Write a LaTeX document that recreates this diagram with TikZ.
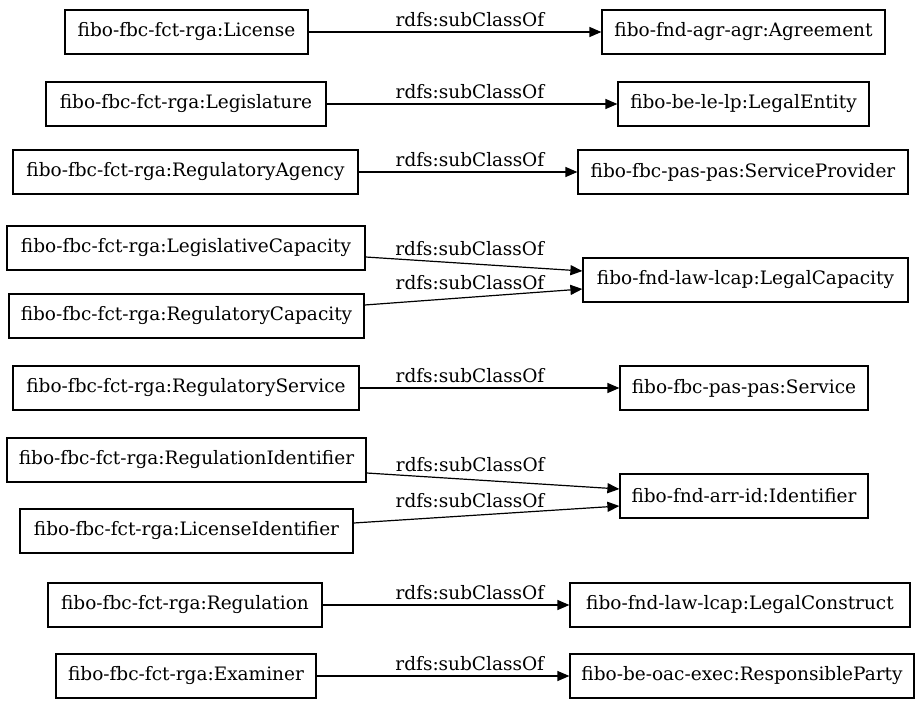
\documentclass[tikz,border=0pt]{standalone}
\usepackage{fontspec}
\setmainfont{DejaVu Serif}
\usetikzlibrary{arrows.meta}
\begin{document}
\begin{tikzpicture}[x=1pt,y=-1pt,
  cls/.style={draw,line width=1.2pt,minimum height=44pt,inner sep=0pt,font=\fontsize{18.5}{22}\selectfont},
  sub/.style={line width=1.2pt,-{Triangle[length=12pt,width=10pt]}},
  lab/.style={font=\fontsize{18.5}{22}\selectfont,inner sep=0pt,anchor=base,yshift=6pt}]
\useasboundingbox (0,0) rectangle (923,707);
% left nodes
\node[cls,minimum width=243pt] (l1) at (186.5,32) {fibo-fbc-fct-rga:License};
\node[cls,minimum width=280pt] (l2) at (186,104) {fibo-fbc-fct-rga:Legislature};
\node[cls,minimum width=345pt] (l3) at (185.5,172) {fibo-fbc-fct-rga:RegulatoryAgency};
\node[cls,minimum width=358pt] (l4) at (186,248) {fibo-fbc-fct-rga:LegislativeCapacity};
\node[cls,minimum width=355pt] (l5) at (186.5,316) {fibo-fbc-fct-rga:RegulatoryCapacity};
\node[cls,minimum width=346pt] (l6) at (186,388) {fibo-fbc-fct-rga:RegulatoryService};
\node[cls,minimum width=359pt] (l7) at (186.5,460) {fibo-fbc-fct-rga:RegulationIdentifier};
\node[cls,minimum width=333pt] (l8) at (186.5,531) {fibo-fbc-fct-rga:LicenseIdentifier};
\node[cls,minimum width=274pt] (l9) at (185,605) {fibo-fbc-fct-rga:Regulation};
\node[cls,minimum width=260pt] (l10) at (186,676) {fibo-fbc-fct-rga:Examiner};
% right nodes
\node[cls,minimum width=283pt] (r1) at (743.5,32) {fibo-fnd-agr-agr:Agreement};
\node[cls,minimum width=251pt] (r2) at (743.5,104) {fibo-be-le-lp:LegalEntity};
\node[cls,minimum width=330pt] (r3) at (743,172) {fibo-fbc-pas-pas:ServiceProvider};
\node[cls,minimum width=325pt] (r4) at (745.5,280) {fibo-fnd-law-lcap:LegalCapacity};
\node[cls,minimum width=248pt] (r5) at (744,388) {fibo-fbc-pas-pas:Service};
\node[cls,minimum width=248pt] (r6) at (744,496) {fibo-fnd-arr-id:Identifier};
\node[cls,minimum width=340pt] (r7) at (740,605) {fibo-fnd-law-lcap:LegalConstruct};
\node[cls,minimum width=344pt] (r8) at (742,676) {fibo-be-oac-exec:ResponsibleParty};
% edges
\draw[sub] (l1) -- node[lab,pos=0.551] {rdfs:subClassOf} (r1);
\draw[sub] (l2) -- node[lab,pos=0.493] {rdfs:subClassOf} (r2);
\draw[sub] (l3) -- node[lab,pos=0.509] {rdfs:subClassOf} (r3);
\draw[sub] ([yshift=-9pt]l4.east) -- node[lab,pos=0.48,yshift=2pt] {rdfs:subClassOf} ([yshift=9pt]r4.west);
\draw[sub] ([yshift=11pt]l5.east) -- node[lab,pos=0.484,yshift=2pt] {rdfs:subClassOf} ([yshift=-9pt]r4.west);
\draw[sub] (l6) -- node[lab,pos=0.425] {rdfs:subClassOf} (r5);
\draw[sub] ([yshift=-13pt]l7.east) -- node[lab,pos=0.41,yshift=2pt] {rdfs:subClassOf} ([yshift=7pt]r6.west);
\draw[sub] ([yshift=8pt]l8.east) -- node[lab,pos=0.438,yshift=2pt] {rdfs:subClassOf} ([yshift=-10pt]r6.west);
\draw[sub] (l9) -- node[lab,pos=0.597] {rdfs:subClassOf} (r7);
\draw[sub] (l10) -- node[lab,pos=0.606] {rdfs:subClassOf} (r8);
\end{tikzpicture}
\end{document}
